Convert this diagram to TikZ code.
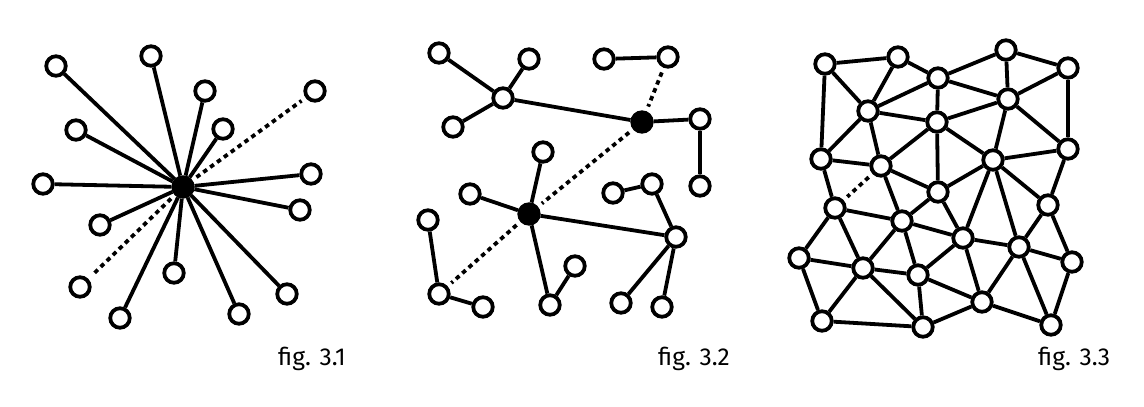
\documentclass[tikz,border=0pt]{standalone}
\usepackage{fontspec}
\setmainfont{Fira Sans}
\begin{document}
\begin{tikzpicture}[x=1pt,y=-1pt,
  v/.style={circle,draw=black,line width=3.8pt,minimum size=19.5pt,inner sep=0pt,fill=white},
  hub/.style={v,fill=black},
  edge/.style={line width=3.8pt},
  dotted edge/.style={line width=3.8pt,dash pattern=on 4.5pt off 4pt,shorten <=5pt,shorten >=5pt},
  lab/.style={anchor=base west,inner sep=0pt,font=\fontsize{24.5pt}{24.5pt}\selectfont}]
\useasboundingbox (0,0) rectangle (1144,407);
% ---------- fig 3.1 ----------
\node[hub] (h) at (183,187) {};
\foreach \n/\x/\y in {n1/56/66,n2/151/56,n3/205/91,n4/315/91,n5/76/130,n6/223/129,
  n7/43/184,n8/311/174,n9/300/210,n10/100/225,n11/80/287,n12/174/273,
  n13/120/318,n14/239/314,n15/287/294}
  \node[v] (\n) at (\x,\y) {};
\foreach \n in {n1,n2,n3,n5,n6,n7,n8,n9,n10,n12,n13,n14,n15}
  \draw[edge] (h) -- (\n);
\draw[dotted edge] (h) -- (n4);
\draw[dotted edge] (h) -- (n11);
\node[lab] (l1) at (278,365) {fig. 3.1};
% ---------- fig 3.2 ----------
\node[hub] (H1) at (642,122) {};
\node[hub] (H2) at (529,214) {};
\foreach \n/\x/\y in {a1/439/53,a2/529/59,a3/503/98,a4/453/127,b1/604/59,b2/668/57,
  c1/700/119,c2/700/186,d1/543/152,d2/470/194,e1/428/220,e2/439/294,e3/483/307,
  f1/550/305,f2/575/266,g1/613/193,g2/652/184,g3/676/237,g4/621/303,g5/662/307}
  \node[v] (\n) at (\x,\y) {};
\foreach \a/\b in {a1/a3,a2/a3,a4/a3,a3/H1,b1/b2,H1/c1,c1/c2,d1/H2,d2/H2,H2/g3,
  H2/f1,f1/f2,e1/e2,e2/e3,g1/g2,g2/g3,g3/g4,g3/g5}
  \draw[edge] (\a) -- (\b);
\draw[dotted edge] (b2) -- (H1);
\draw[dotted edge] (H1) -- (H2);
\draw[dotted edge] (H2) -- (e2);
\node[lab] (l2) at (658,365) {fig. 3.2};
% ---------- fig 3.3 ----------
\foreach \n/\x/\y in {p1/825/64,p2/898/57,p3/938/78,p4/1006/50,p5/1068/68,
  p6/868/111,p7/937/122,p8/1008/99,p9/821/159,p10/881/166,p11/993/160,
  p12/1068/149,p13/938/192,p14/835/208,p15/902/221,p16/1048/205,p17/963/238,
  p18/1019/247,p19/799/258,p20/863/268,p21/918/275,p22/1072/262,p23/982/302,
  p24/822/321,p25/923/327,p26/1051/325}
  \node[v] (\n) at (\x,\y) {};
\foreach \a/\b in {p1/p2,p1/p6,p1/p9,p2/p3,p2/p6,p3/p4,p3/p6,p3/p7,p3/p8,
  p4/p5,p4/p8,p5/p8,p5/p12,p6/p7,p6/p9,p6/p10,p7/p8,p7/p10,p7/p13,p7/p11,
  p8/p11,p8/p12,p9/p10,p9/p14,p10/p13,p10/p15,p11/p12,p11/p13,p11/p17,
  p11/p18,p11/p16,p12/p16,p13/p15,p13/p17,p14/p15,p14/p19,p14/p20,
  p15/p17,p15/p20,p15/p21,p16/p18,p16/p22,p17/p18,p17/p21,p17/p23,
  p18/p22,p18/p23,p18/p26,p19/p20,p19/p24,p20/p21,p20/p24,p20/p25,
  p21/p23,p21/p25,p22/p26,p23/p25,p23/p26,p24/p25}
  \draw[edge] (\a) -- (\b);
\draw[dotted edge] (p10) -- (p14);
\node[lab] (l3) at (1038,365) {fig. 3.3};
\end{tikzpicture}
\end{document}
